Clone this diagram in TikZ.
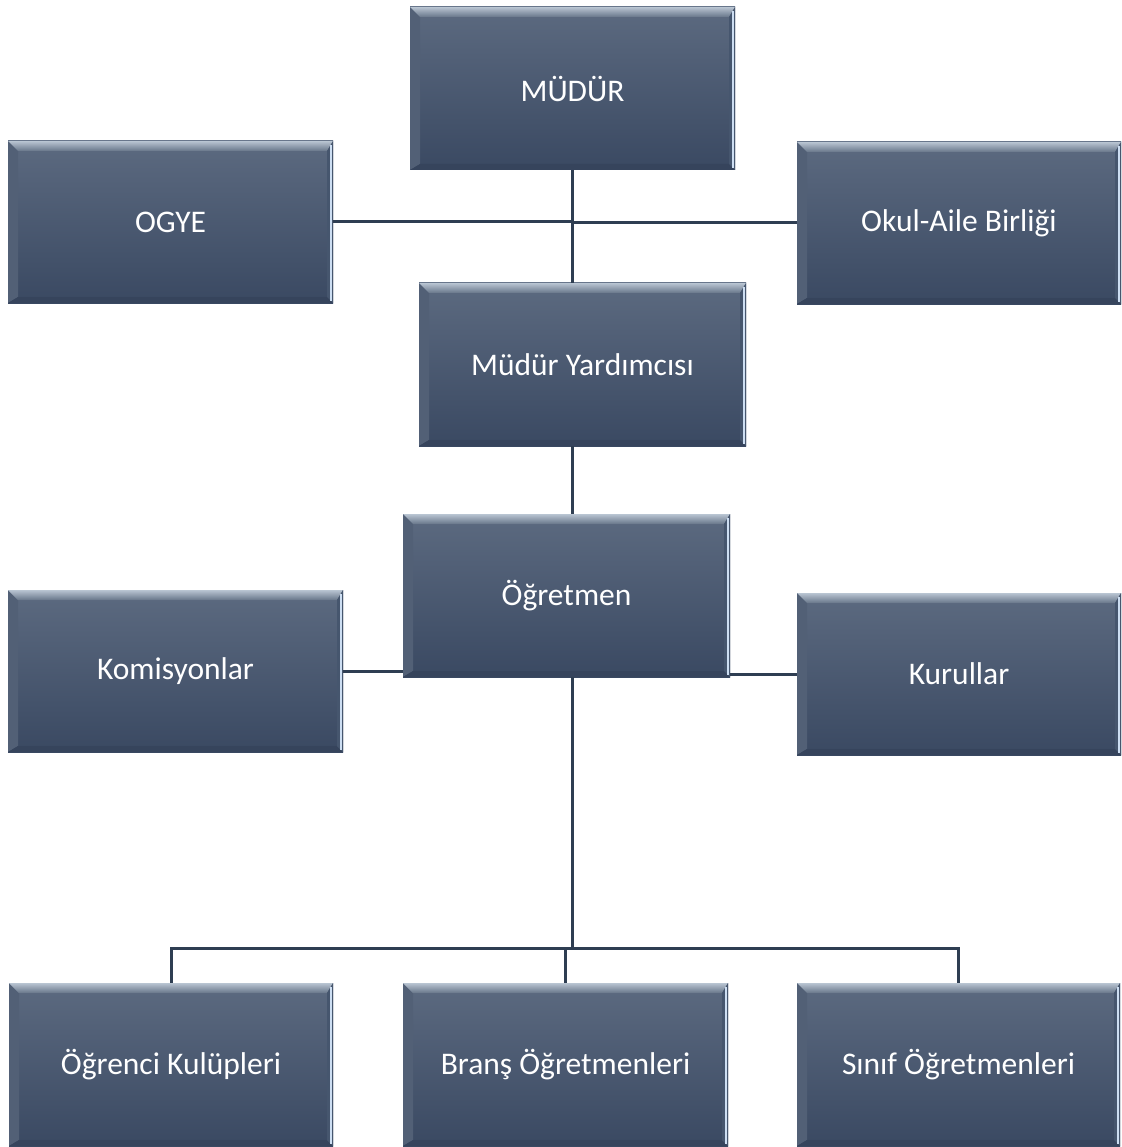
\documentclass[tikz,border=0pt]{standalone}
\usepackage{fontspec}
\setmainfont{Carlito}
\usetikzlibrary{calc}
\definecolor{bodytop}{RGB}{92,106,128}
\definecolor{bodybot}{RGB}{58,73,98}
\definecolor{bevtop}{RGB}{185,197,210}
\definecolor{bevbot}{RGB}{104,118,138}
\definecolor{rightbev}{RGB}{205,222,242}
\definecolor{rightin}{RGB}{70,86,110}
\definecolor{leftbev}{RGB}{82,96,118}
\definecolor{botbev}{RGB}{54,68,92}
\definecolor{linecol}{RGB}{47,62,82}
\tikzset{
  orgbox/.style={rectangle, inner sep=0pt, text=white,
    font=\fontsize{31.5}{38}\selectfont,
    top color=bodytop, bottom color=bodybot, draw=none,
    path picture={
      \coordinate (pa) at (path picture bounding box.north west);
      \coordinate (pb) at (path picture bounding box.north east);
      \coordinate (pc) at (path picture bounding box.south east);
      \coordinate (pd) at (path picture bounding box.south west);
      \fill[leftbev] (pa) -- ([shift={(10pt,-10pt)}]pa) -- ([shift={(10pt,6pt)}]pd) -- (pd) -- cycle;
      \fill[botbev] (pd) -- ([shift={(10pt,6pt)}]pd) -- ([shift={(-6pt,6pt)}]pc) -- (pc) -- cycle;
      \shade[top color=bevtop, bottom color=bevbot] (pa) -- (pb) -- ([shift={(-6pt,-10pt)}]pb) -- ([shift={(10pt,-10pt)}]pa) -- cycle;
      \fill[rightin] (pb) -- ([shift={(-6pt,-10pt)}]pb) -- ([shift={(-6pt,6pt)}]pc) -- (pc) -- cycle;
      \fill[rightbev] ([shift={(-3pt,-4pt)}]pb) rectangle ([shift={(-1pt,2pt)}]pc);
    }},
  conn/.style={draw=linecol, line width=3pt}
}
\begin{document}
\begin{tikzpicture}[x=1pt,y=-1pt]
\useasboundingbox (0,0) rectangle (1121,1147);
\node[orgbox, minimum width=325pt, minimum height=163pt] (mudur) at (572.5,88.5) {MÜDÜR};
\node[orgbox, minimum width=325pt, minimum height=162pt] (ogye) at (170.5,222) {OGYE};
\node[orgbox, minimum width=324pt, minimum height=162pt] (okul) at (959,223) {Okul-Aile Birliği};
\node[orgbox, minimum width=327pt, minimum height=163pt] (my) at (582.5,364.5) {Müdür Yardımcısı};
\node[orgbox, minimum width=327pt, minimum height=163pt] (ogr) at (566.5,595.5) {Öğretmen};
\node[orgbox, minimum width=335pt, minimum height=162pt] (kom) at (175.5,671) {Komisyonlar};
\node[orgbox, minimum width=324pt, minimum height=162pt] (kur) at (959,674) {Kurullar};
\node[orgbox, minimum width=324pt, minimum height=163pt] (ok) at (171,1064.5) {Öğrenci Kulüpleri};
\node[orgbox, minimum width=325pt, minimum height=163pt] (bo) at (565.5,1064.5) {Branş Öğretmenleri};
\node[orgbox, minimum width=323pt, minimum height=163pt] (so) at (958.5,1064.5) {Sınıf Öğretmenleri};
\coordinate (spine) at (572,0);
\coordinate (bus) at (572,948);
\draw[conn] (mudur.south -| spine) -- (my.north -| spine);
\draw[conn] (ogye.east) -- (ogye.east -| spine);
\draw[conn] (okul.west -| spine) -- (okul.west);
\draw[conn] (my.south -| spine) -- (ogr.north -| spine);
\draw[conn] (kom.east) -- (kom.east -| ogr.west);
\draw[conn] (ogr.east |- kur.west) -- (kur.west);
\draw[conn] (ogr.south -| spine) -- (bus);
\draw[conn] (ok.north) -- (ok.north |- bus) -- (so.north |- bus) -- (so.north);
\draw[conn] (bo.north) -- (bo.north |- bus);
\end{tikzpicture}
\end{document}
